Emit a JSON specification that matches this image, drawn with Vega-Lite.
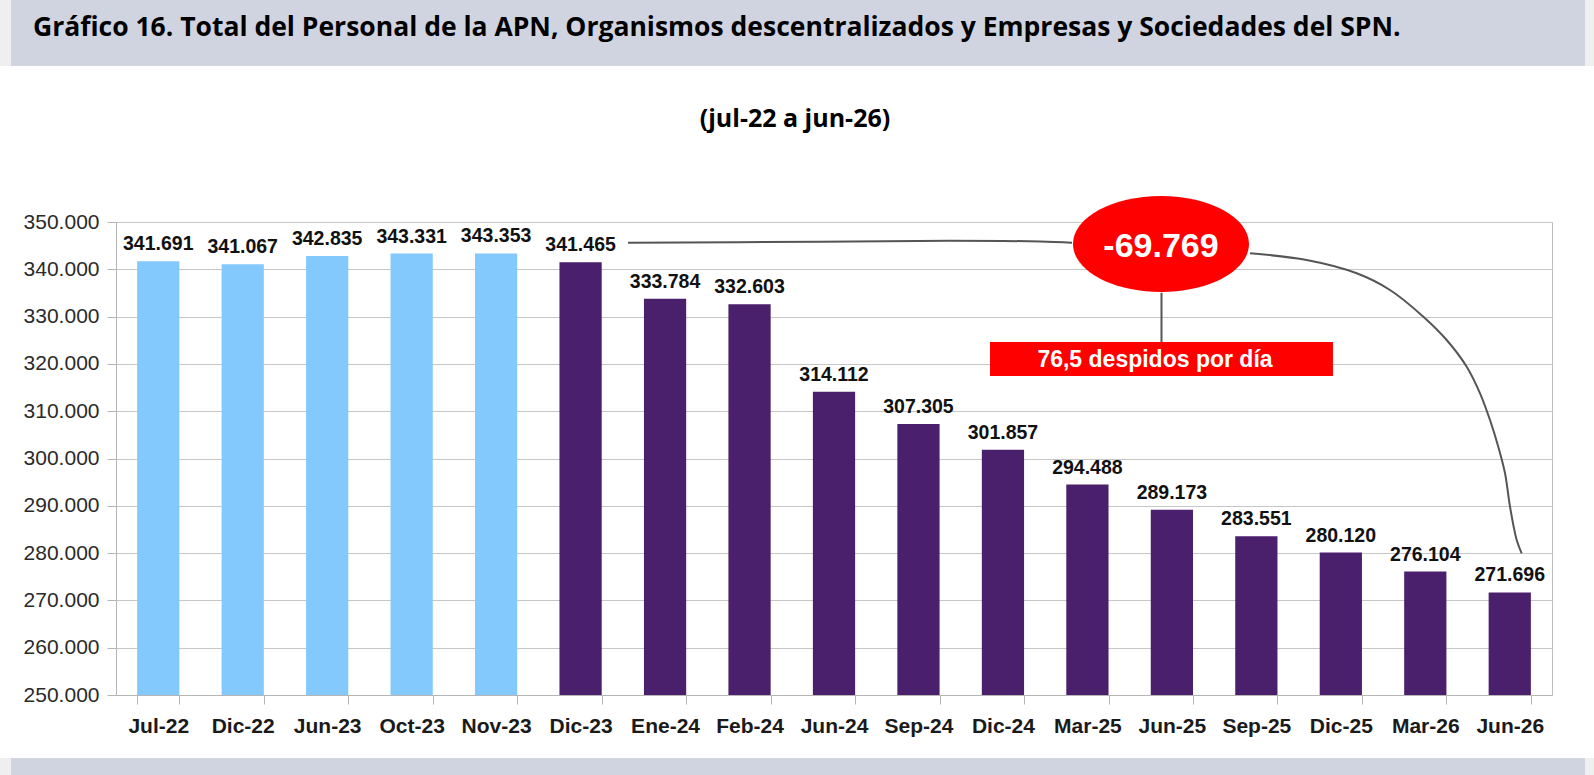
{
  "$schema": "https://vega.github.io/schema/vega-lite/v6.json",
  "width": 1436,
  "height": 473,
  "autosize": {"type": "none"},
  "padding": {"left": 116, "top": 222, "right": 42, "bottom": 80},
  "background": "#ffffff",
  "config": {
    "locale": {"number": {"decimal": ",", "thousands": ".", "grouping": [3], "currency": ["$", ""]}},
    "view": {"stroke": "#bdbdbd", "strokeWidth": 1},
    "font": "Liberation Sans",
    "axisY": {
      "title": null, "values": [250000, 260000, 270000, 280000, 290000, 300000, 310000, 320000, 330000, 340000, 350000],
      "format": ",d", "grid": true, "gridColor": "#c6c6c6", "tickColor": "#b5b5b5", "tickSize": 9,
      "domainColor": "#b5b5b5", "labelFontSize": 21, "labelFont": "Liberation Sans",
      "labelColor": "#2a2a2a", "labelPadding": 8
    }
  },
  "datasets": {
    "personal": [
      {"mes": "Jul-22", "gestion": "Anterior", "valor": 341691},
      {"mes": "Dic-22", "gestion": "Anterior", "valor": 341067},
      {"mes": "Jun-23", "gestion": "Anterior", "valor": 342835},
      {"mes": "Oct-23", "gestion": "Anterior", "valor": 343331},
      {"mes": "Nov-23", "gestion": "Anterior", "valor": 343353},
      {"mes": "Dic-23", "gestion": "Actual", "valor": 341465},
      {"mes": "Ene-24", "gestion": "Actual", "valor": 333784},
      {"mes": "Feb-24", "gestion": "Actual", "valor": 332603},
      {"mes": "Jun-24", "gestion": "Actual", "valor": 314112},
      {"mes": "Sep-24", "gestion": "Actual", "valor": 307305},
      {"mes": "Dic-24", "gestion": "Actual", "valor": 301857},
      {"mes": "Mar-25", "gestion": "Actual", "valor": 294488},
      {"mes": "Jun-25", "gestion": "Actual", "valor": 289173},
      {"mes": "Sep-25", "gestion": "Actual", "valor": 283551},
      {"mes": "Dic-25", "gestion": "Actual", "valor": 280120},
      {"mes": "Mar-26", "gestion": "Actual", "valor": 276104},
      {"mes": "Jun-26", "gestion": "Actual", "valor": 271696}
    ],
    "conectores": [
      {"tramo": "izq", "pos": 6.061, "valor": 345616},
      {"tramo": "izq", "pos": 8.334, "valor": 345828},
      {"tramo": "izq", "pos": 9.873, "valor": 346039},
      {"tramo": "izq", "pos": 10.939, "valor": 345870},
      {"tramo": "izq", "pos": 11.318, "valor": 345616},
      {"tramo": "der", "pos": 13.425, "valor": 343384},
      {"tramo": "der", "pos": 14.096, "valor": 341968},
      {"tramo": "der", "pos": 14.688, "valor": 339156},
      {"tramo": "der", "pos": 15.082, "valor": 335625},
      {"tramo": "der", "pos": 15.477, "valor": 329980},
      {"tramo": "der", "pos": 15.753, "valor": 325054},
      {"tramo": "der", "pos": 15.99, "valor": 319409},
      {"tramo": "der", "pos": 16.148, "valor": 313786},
      {"tramo": "der", "pos": 16.266, "valor": 308141},
      {"tramo": "der", "pos": 16.364, "valor": 302496},
      {"tramo": "der", "pos": 16.444, "valor": 296872},
      {"tramo": "der", "pos": 16.503, "valor": 289810},
      {"tramo": "der", "pos": 16.582, "valor": 282770},
      {"tramo": "der", "pos": 16.641, "valor": 279958}
    ]
  },
  "resolve": {"scale": {"x": "independent"}},
  "layer": [
    {
      "data": {"values": [{"banda": "superior"}]},
      "mark": {"type": "rect", "color": "#efefef", "clip": false},
      "encoding": {
        "x": {"datum": -1.4, "type": "quantitative", "scale": {"domain": [0, 17], "nice": false, "zero": false}, "axis": null},
        "x2": {"datum": 17.6},
        "y": {"datum": 396923, "type": "quantitative", "title": null, "scale": {"domain": [250000, 350000], "nice": false, "zero": false}},
        "y2": {"datum": 382971}
      }
    },
    {
      "data": {"values": [{"banda": "superior"}]},
      "mark": {"type": "rect", "color": "#cfd4e0", "clip": false},
      "encoding": {
        "x": {"datum": -1.243, "type": "quantitative", "scale": {"domain": [0, 17], "nice": false, "zero": false}, "axis": null},
        "x2": {"datum": 17.391},
        "y": {"datum": 396923, "type": "quantitative", "title": null, "scale": {"domain": [250000, 350000], "nice": false, "zero": false}},
        "y2": {"datum": 382971}
      }
    },
    {
      "data": {"values": [{"banda": "inferior"}]},
      "mark": {"type": "rect", "color": "#efefef", "clip": false},
      "encoding": {
        "x": {"datum": -1.4, "type": "quantitative", "scale": {"domain": [0, 17], "nice": false, "zero": false}, "axis": null},
        "x2": {"datum": 17.6},
        "y": {"datum": 236682, "type": "quantitative", "title": null, "scale": {"domain": [250000, 350000], "nice": false, "zero": false}},
        "y2": {"datum": 230000}
      }
    },
    {
      "data": {"values": [{"banda": "inferior"}]},
      "mark": {"type": "rect", "color": "#cfd4e0", "clip": false},
      "encoding": {
        "x": {"datum": -1.243, "type": "quantitative", "scale": {"domain": [0, 17], "nice": false, "zero": false}, "axis": null},
        "x2": {"datum": 17.391},
        "y": {"datum": 236682, "type": "quantitative", "title": null, "scale": {"domain": [250000, 350000], "nice": false, "zero": false}},
        "y2": {"datum": 230000}
      }
    },
    {
      "data": {"name": "personal"},
      "layer": [
        {
          "mark": {"type": "bar"},
          "encoding": {
            "x": {
              "field": "mes", "type": "nominal", "sort": null,
              "scale": {"paddingInner": 0.5, "paddingOuter": 0.25},
              "axis": {
                "title": null, "labelAngle": 0, "labelFontSize": 21, "labelFontWeight": "bold",
                "labelFont": "Liberation Sans", "labelColor": "#1a1a1a", "labelPadding": 11,
                "labelOverlap": false, "tickSize": 9, "tickBand": "extent", "tickColor": "#b5b5b5",
                "domainColor": "#b5b5b5", "grid": false
              }
            },
            "y": {
              "field": "valor", "type": "quantitative", "title": null,
              "scale": {"domain": [250000, 350000], "nice": false, "zero": false}
            },
            "y2": {"datum": 250000},
            "color": {
              "field": "gestion", "type": "nominal",
              "scale": {"domain": ["Anterior", "Actual"], "range": ["#83c9fe", "#4a1f6b"]},
              "legend": null
            }
          }
        },
        {
          "mark": {"type": "text", "dy": -11, "baseline": "alphabetic", "align": "center", "fontWeight": "bold", "fontSize": 19.5, "font": "Liberation Sans", "color": "#111111"},
          "encoding": {
            "x": {"field": "mes", "type": "nominal", "sort": null},
            "y": {"field": "valor", "type": "quantitative", "title": null, "scale": {"domain": [250000, 350000], "nice": false, "zero": false}},
            "text": {"field": "valor", "type": "quantitative", "format": ",d"}
          }
        }
      ]
    },
    {
      "data": {"name": "conectores"},
      "mark": {"type": "line", "interpolate": "catmull-rom", "color": "#555555", "strokeWidth": 2},
      "encoding": {
        "x": {"field": "pos", "type": "quantitative", "scale": {"domain": [0, 17], "nice": false, "zero": false}, "axis": null},
        "y": {"field": "valor", "type": "quantitative", "title": null, "scale": {"domain": [250000, 350000], "nice": false, "zero": false}},
        "detail": {"field": "tramo", "type": "nominal"}
      }
    },
    {
      "data": {"values": [{"tramo": "vertical"}]},
      "mark": {"type": "rule", "color": "#555555", "strokeWidth": 2},
      "encoding": {
        "x": {"datum": 12.377, "type": "quantitative", "scale": {"domain": [0, 17], "nice": false, "zero": false}, "axis": null},
        "y": {"datum": 335046, "type": "quantitative", "title": null, "scale": {"domain": [250000, 350000], "nice": false, "zero": false}},
        "y2": {"datum": 324624}
      }
    },
    {
      "data": {"values": [{"texto": "-69.769"}]},
      "mark": {"type": "point", "shape": "M-1,0A1,0.545,0,1,0,1,0A1,0.545,0,1,0,-1,0Z", "size": 30976, "filled": true, "color": "#ff0000", "opacity": 1, "strokeWidth": 0},
      "encoding": {
        "x": {"datum": 12.371, "type": "quantitative", "scale": {"domain": [0, 17], "nice": false, "zero": false}, "axis": null},
        "y": {"datum": 345341, "type": "quantitative", "title": null, "scale": {"domain": [250000, 350000], "nice": false, "zero": false}}
      }
    },
    {
      "data": {"values": [{"texto": "-69.769"}]},
      "mark": {"type": "text", "font": "Liberation Sans", "fontWeight": "bold", "fontSize": 34, "color": "#ffffff", "align": "center", "baseline": "alphabetic"},
      "encoding": {
        "x": {"datum": 12.371, "type": "quantitative", "scale": {"domain": [0, 17], "nice": false, "zero": false}, "axis": null},
        "y": {"datum": 342657, "type": "quantitative", "title": null, "scale": {"domain": [250000, 350000], "nice": false, "zero": false}},
        "text": {"field": "texto", "type": "nominal"}
      }
    },
    {
      "data": {"values": [{"texto": "76,5 despidos por día"}]},
      "mark": {"type": "rect", "color": "#ff0000"},
      "encoding": {
        "x": {"datum": 10.347, "type": "quantitative", "scale": {"domain": [0, 17], "nice": false, "zero": false}, "axis": null},
        "x2": {"datum": 14.407},
        "y": {"datum": 324624, "type": "quantitative", "title": null, "scale": {"domain": [250000, 350000], "nice": false, "zero": false}},
        "y2": {"datum": 317437}
      }
    },
    {
      "data": {"values": [{"texto": "76,5 despidos por día"}]},
      "mark": {"type": "text", "font": "Liberation Sans", "fontWeight": "bold", "fontSize": 23, "color": "#ffffff", "align": "center", "baseline": "alphabetic"},
      "encoding": {
        "x": {"datum": 12.3, "type": "quantitative", "scale": {"domain": [0, 17], "nice": false, "zero": false}, "axis": null},
        "y": {"datum": 319403, "type": "quantitative", "title": null, "scale": {"domain": [250000, 350000], "nice": false, "zero": false}},
        "text": {"field": "texto", "type": "nominal"}
      }
    },
    {
      "data": {"values": [{"texto": "Gráfico 16. Total del Personal de la APN, Organismos descentralizados y Empresas y Sociedades del SPN."}]},
      "mark": {"type": "text", "font": "Open Sans", "fontWeight": "bold", "fontSize": 26.5, "color": "#000000", "align": "left", "baseline": "alphabetic", "clip": false},
      "encoding": {
        "x": {"datum": -0.983, "type": "quantitative", "scale": {"domain": [0, 17], "nice": false, "zero": false}, "axis": null},
        "y": {"datum": 389326, "type": "quantitative", "title": null, "scale": {"domain": [250000, 350000], "nice": false, "zero": false}},
        "text": {"field": "texto", "type": "nominal"}
      }
    },
    {
      "data": {"values": [{"texto": "(jul-22 a jun-26)"}]},
      "mark": {"type": "text", "font": "Open Sans", "fontWeight": "bold", "fontSize": 25, "color": "#000000", "align": "center", "baseline": "alphabetic", "clip": false},
      "encoding": {
        "x": {"datum": 8.038, "type": "quantitative", "scale": {"domain": [0, 17], "nice": false, "zero": false}, "axis": null},
        "y": {"datum": 370023, "type": "quantitative", "title": null, "scale": {"domain": [250000, 350000], "nice": false, "zero": false}},
        "text": {"field": "texto", "type": "nominal"}
      }
    }
  ]
}
